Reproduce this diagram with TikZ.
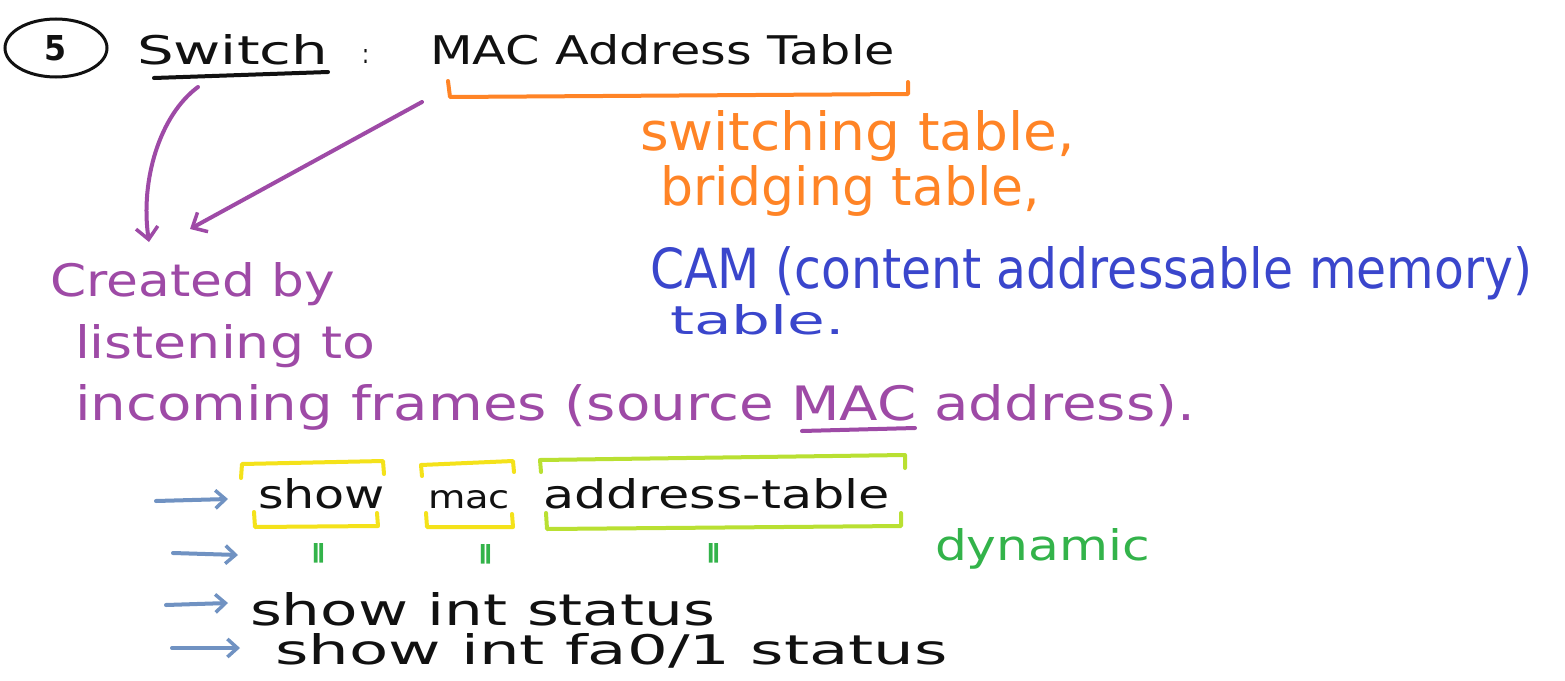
\documentclass[tikz,border=0pt]{standalone}
\usepackage{fontspec}
\setmainfont{DejaVu Sans}
\usepackage{graphicx}
\usetikzlibrary{arrows.meta,shapes.geometric}
\definecolor{ink}{HTML}{111111}
\definecolor{orng}{HTML}{FF8426}
\definecolor{camblue}{HTML}{3A46CC}
\definecolor{purp}{HTML}{9E4AA6}
\definecolor{arrblue}{HTML}{7092C2}
\definecolor{yel}{HTML}{F4E21A}
\definecolor{lime}{HTML}{B9E032}
\definecolor{dyn}{HTML}{33B34A}
\newcommand\fitbox[3]{\resizebox{#1pt}{#2pt}{#3}}
\tikzset{
  txt/.style={anchor=base west, inner sep=0pt, outer sep=0pt},
  hand/.style={line width=4pt, line cap=round, line join=round},
  parrow/.style={hand, purp, -{Straight Barb[length=12pt,width=22pt,line width=3.5pt]}},
  barrow/.style={hand, arrblue, -{Straight Barb[length=10pt,width=18pt,line width=3.5pt]}},
  brk/.style={hand, line width=4pt},
  dittostyle/.style={anchor=center, inner sep=0pt, outer sep=0pt, text=dyn, font=\bfseries},
}
\begin{document}
\begin{tikzpicture}[x=1pt,y=-1pt]
\useasboundingbox (0,0) rectangle (1565,680);
\fill[white] (0,0) rectangle (1565,680);

% title line
\node[draw=ink, line width=3pt, ellipse, minimum width=102pt, minimum height=58pt, inner sep=0pt] (five) at (56,48) {\fitbox{22}{25}{\color{ink}\bfseries 5}};
\node[txt, text=ink] (switch) at (137,64) {\fitbox{191}{30}{Switch}};
\draw[hand, ink] (154,78) -- (328,72);
\node[txt, text=ink] (colon) at (362,63) {\fitbox{7}{14}{:}};
\node[txt, text=ink] (title) at (430,64) {\fitbox{465}{30}{MAC Address Table}};
\draw[brk, orng] (448,81) -- (450,97) -- (908,94) -- (908,82);

% orange + blue notes
\node[txt, text=orng] (swt) at (640,150) {\fitbox{435}{40}{switching table,}};
\node[txt, text=orng] (brt) at (660,205) {\fitbox{380}{40}{bridging table,}};
\node[txt, text=camblue] (cam) at (650,288) {\fitbox{882}{42}{CAM (content addressable memory)}};
\node[txt, text=camblue] (camt) at (670,334) {\fitbox{175}{30}{table.}};

% purple text
\node[txt, text=purp] (created) at (50,296) {\fitbox{285}{34}{Created by}};
\node[txt, text=purp] (listen) at (75,358) {\fitbox{300}{34}{listening to}};
\node[txt, text=purp] (incoming) at (75,420) {\fitbox{1120}{36}{incoming frames (source MAC address).}};
\draw[hand, purp] (802,431) -- (915,428);

% purple arrows
\coordinate (s1) at (198,87);
\coordinate (e1) at (149,242);
\coordinate (s2) at (422,102);
\coordinate (e2) at (190,229);
\draw[parrow] (s1) .. controls (160,115) and (140,180) .. (e1);
\draw[parrow] (s2) -- (e2);

% command line with brackets
\node[txt, text=ink] (show) at (258,508) {\fitbox{127}{30}{show}};
\node[txt, text=ink] (mac) at (428,508) {\fitbox{82}{18}{mac}};
\node[txt, text=ink] (addr) at (543,508) {\fitbox{347}{30}{address-table}};
\draw[brk, yel] (241,478) -- (242,464) -- (383,461) -- (384,474);
\draw[brk, yel] (254,512) -- (255,527) -- (378,526) -- (377,513);
\draw[brk, yel] (422,476) -- (421,465) -- (513,461) -- (514,472);
\draw[brk, yel] (426,513) -- (427,527) -- (513,527) -- (512,514);
\draw[brk, lime] (541,472) -- (540,460) -- (905,455) -- (905,468);
\draw[brk, lime] (546,513) -- (547,529) -- (901,526) -- (901,513);

% ditto marks and dynamic
\node[dittostyle] (d1) at (318,553) {\fitbox{17}{15}{‖}};
\node[dittostyle] (d2) at (485,554) {\fitbox{17}{15}{‖}};
\node[dittostyle] (d3) at (713,553) {\fitbox{17}{15}{‖}};
\node[txt, text=dyn] (dynamic) at (935,560) {\fitbox{215}{32}{dynamic}};

% interface commands
\node[txt, text=ink] (sis) at (250,625) {\fitbox{465}{33}{show int status}};
\node[txt, text=ink] (sifs) at (275,664) {\fitbox{673}{31}{show int fa0/1 status}};

% blue arrows
\coordinate (b1s) at (156,501); \coordinate (b1e) at (228,499);
\coordinate (b2s) at (173,553); \coordinate (b2e) at (238,555);
\coordinate (b3s) at (166,605); \coordinate (b3e) at (228,603);
\coordinate (b4s) at (172,648); \coordinate (b4e) at (240,648);
\draw[barrow] (b1s) -- (b1e);
\draw[barrow] (b2s) -- (b2e);
\draw[barrow] (b3s) -- (b3e);
\draw[barrow] (b4s) -- (b4e);
\end{tikzpicture}
\end{document}
